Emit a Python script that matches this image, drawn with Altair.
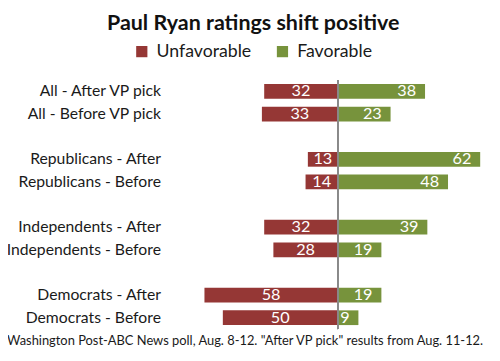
import altair as alt
import pandas as pd

rows = ["All - After VP pick", "All - Before VP pick", " ",
        "Republicans - After", "Republicans - Before", "  ",
        "Independents - After", "Independents - Before", "   ",
        "Democrats - After", "Democrats - Before"]
groups = ["All - After VP pick", "All - Before VP pick",
          "Republicans - After", "Republicans - Before",
          "Independents - After", "Independents - Before",
          "Democrats - After", "Democrats - Before"]
unfavorable = [32, 33, 13, 14, 32, 28, 58, 50]
favorable = [38, 23, 62, 48, 39, 19, 19, 9]
series = ["Unfavorable", "Favorable"]
colors = ["#953735", "#77933C"]

df = pd.DataFrame(
    [{"group": g, "series": "Unfavorable", "value": u} for g, u in zip(groups, unfavorable)]
    + [{"group": g, "series": "Favorable", "value": f} for g, f in zip(groups, favorable)]
)

FONT = "Lato"

base = alt.Chart(df).transform_calculate(
    xval="datum.series == 'Unfavorable' ? -datum.value : datum.value",
    xmid="datum.series == 'Unfavorable' ? -datum.value / 2 : datum.value",
)

yenc = alt.Y("group:N", sort=rows,
             scale=alt.Scale(domain=rows, paddingInner=0.35, paddingOuter=0.175),
             axis=alt.Axis(title=None, ticks=False, domain=False, labelPadding=12,
                           labelFontSize=16, labelColor="#1a1a1a", labelFont=FONT,
                           labelLimit=220))
xscale = alt.Scale(domain=[-72, 65], nice=False, zero=False)

bars = base.mark_bar().encode(
    x=alt.X("xval:Q", scale=xscale,
            axis=alt.Axis(labels=False, ticks=False, domain=False, grid=False,
                          title='Washington Post-ABC News poll, Aug. 8-12. "After VP pick" results from Aug. 11-12.',
                          titleFont=FONT, titleFontSize=13.1, titleFontWeight="normal",
                          titleColor="#1a1a1a", titleX=73.5, titleAlign="center",
                          titlePadding=6)),
    x2=alt.datum(0),
    y=yenc,
    color=alt.Color("series:N", scale=alt.Scale(domain=series, range=colors),
                    legend=alt.Legend(title=None, orient="none", direction="horizontal",
                                      legendX=-40, legendY=-38, symbolType="square",
                                      symbolSize=130, symbolStrokeWidth=0, symbolOpacity=1,
                                      labelFont=FONT, labelFontSize=18, labelColor="#1a1a1a",
                                      columnPadding=22, labelOffset=6)),
)

rule = alt.Chart(df).mark_rule(color="#8a8a8a", strokeWidth=1).encode(x=alt.datum(0))

lab_unf = base.transform_filter("datum.series == 'Unfavorable'").mark_text(
    color="white", font=FONT, fontSize=16.5, align="center", baseline="middle"
).encode(x=alt.X("xmid:Q", scale=xscale), y=alt.Y("group:N", sort=rows), text="value:Q")

lab_fav = base.transform_filter("datum.series == 'Favorable'").mark_text(
    color="white", font=FONT, fontSize=16.5, align="right", baseline="middle", dx=-9
).encode(x=alt.X("xmid:Q", scale=xscale), y=alt.Y("group:N", sort=rows), text="value:Q")

chart = alt.layer(bars, rule, lab_unf, lab_fav).properties(
    width=320, height=253,
    autosize=alt.AutoSizeParams(type="none"),
    padding={"left": 167, "top": 70.5, "right": 5, "bottom": 20},
    title=alt.TitleParams("Paul Ryan ratings shift positive", font=FONT, fontSize=21.8,
                          fontWeight="bold", color="#111111", anchor="middle",
                          frame="bounds", offset=8, dx=7),
).configure_view(stroke=None)

chart.save("out.html", embed_options={"renderer": "svg", "actions": False})
